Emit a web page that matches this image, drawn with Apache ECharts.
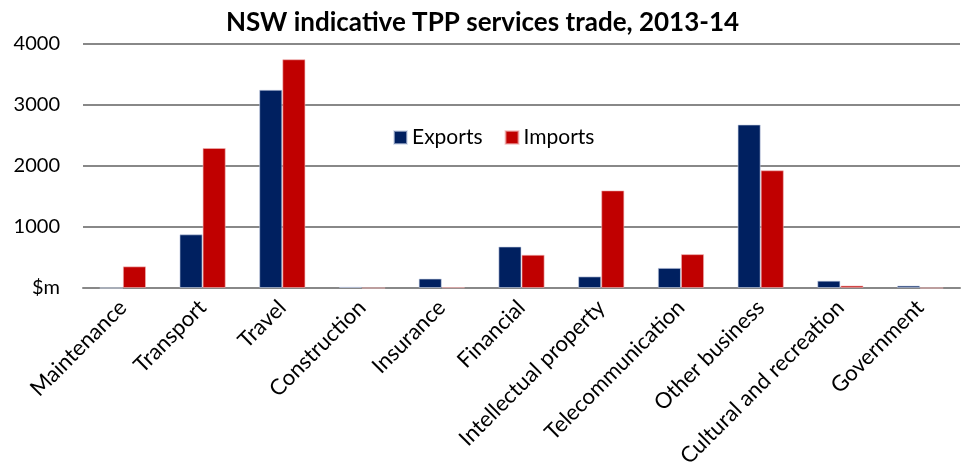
<!DOCTYPE html>
<html>
<head>
<meta charset="utf-8">
<script src="https://cdn.jsdelivr.net/npm/echarts@6/dist/echarts.min.js"></script>
<style>
  html, body { margin: 0; padding: 0; background: #fff; }
  #main { width: 965px; height: 475px; }
</style>
</head>
<body>
<div id="main"></div>
<script>
const categories = ['Maintenance', 'Transport', 'Travel', 'Construction', 'Insurance', 'Financial',
  'Intellectual property', 'Telecommunication', 'Other business', 'Cultural and recreation', 'Government']
const exportsData = [0, 880, 3250, 20, 155, 680, 190, 330, 2680, 120, 40]
const importsData = [355, 2295, 3750, 0, 10, 545, 1600, 555, 1930, 40, 0]

const font = 'Lato, "Open Sans", sans-serif'
const myChart = echarts.init(document.getElementById('main'))

const option = {
  animation: false,
  textStyle: { fontFamily: font, color: '#000' },
  title: {
    text: 'NSW indicative TPP services trade, 2013-14',
    left: 'center',
    top: 5,
    textStyle: { fontFamily: font, fontSize: 26, fontWeight: 'bold', color: '#000' }
  },
  legend: {
    left: 388,
    top: 122,
    itemWidth: 13,
    itemHeight: 13,
    itemGap: 22,
    icon: 'rect',
    textStyle: { fontFamily: font, fontSize: 21, color: '#000' }
  },
  grid: { left: 83, right: 5, top: 44, height: 244 },
  xAxis: {
    type: 'category',
    data: categories,
    axisLine: { lineStyle: { color: '#888', width: 2 } },
    axisTick: { length: 6, lineStyle: { color: '#888', width: 2 } },
    axisLabel: { rotate: 45, fontSize: 22, color: '#000', margin: 16, interval: 0, fontFamily: font }
  },
  yAxis: {
    type: 'value',
    min: 0,
    max: 4000,
    interval: 1000,
    axisLine: { show: false },
    axisTick: { show: false },
    splitLine: { lineStyle: { color: '#888', width: 2 } },
    axisLabel: {
      fontSize: 20, color: '#000', margin: 23, fontFamily: font,
      formatter: v => v === 0 ? '$m' : String(v)
    }
  },
  series: [
    {
      name: 'Exports',
      type: 'bar',
      data: exportsData,
      barGap: '0%',
      barCategoryGap: '42%',
      itemStyle: { color: '#002060', borderColor: 'rgba(200,210,230,0.6)', borderWidth: 1 }
    },
    {
      name: 'Imports',
      type: 'bar',
      data: importsData,
      itemStyle: { color: '#C00000', borderColor: 'rgba(240,180,180,0.6)', borderWidth: 1 }
    }
  ]
}

myChart.setOption(option)
</script>
</body>
</html>
